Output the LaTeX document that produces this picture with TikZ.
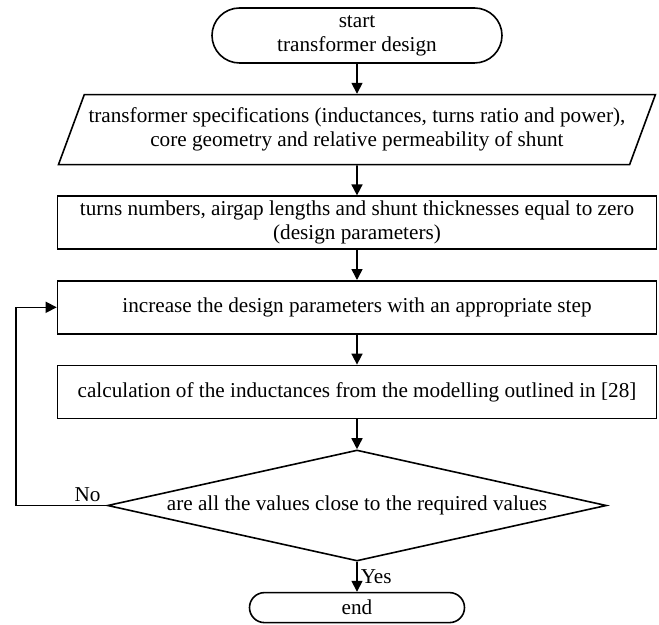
\documentclass[tikz,border=0pt]{standalone}
\usepackage{fontspec}
\setmainfont{Liberation Serif}
\usetikzlibrary{arrows.meta,positioning,shapes.geometric,shapes.misc}
\tikzset{>={Triangle[length=5.5pt,width=5.5pt]},
  box/.style={draw=black,line width=0.8pt,rectangle,align=center,
    inner sep=2pt,font=\fontsize{10.6}{12}\selectfont,
    minimum width=299.5pt,minimum height=26.5pt},
  termbox/.style={box,rounded rectangle,minimum width=149pt,minimum height=27.5pt},
  iobox/.style={box,trapezium,trapezium stretches=true,
    trapezium left angle=63.4,trapezium right angle=116.6,
    minimum width=299.5pt,minimum height=35pt},
  decbox/.style={box,diamond,aspect=4.5,inner sep=0pt,
    minimum width=249.5pt,minimum height=55.5pt},
  flow/.style={->,line width=0.8pt,black},
  lbl/.style={font=\fontsize{10.6}{12}\selectfont,inner sep=1.5pt}}
\begin{document}
\begin{tikzpicture}[node distance=15pt]
  \useasboundingbox (0,0) rectangle (329.5pt,-312.5pt);
  \node[termbox] (start) at (178.5pt,-17.75pt) {start\\transformer design};
  \node[iobox,below=of start] (spec) {transformer specifications (inductances, turns ratio and power),\\core geometry and relative permeability of shunt};
  \node[box,below=of spec] (init) {turns numbers, airgap lengths and shunt thicknesses equal to zero\\(design parameters)};
  \node[box,below=of init] (incr) {increase the design parameters with an appropriate step};
  \node[box,below=of incr] (calc) {calculation of the inductances from the modelling outlined in [28]};
  \node[decbox,below=of calc] (check) {are all the values close to the required values};
  \node[termbox,below=of check,minimum width=111.5pt,minimum height=15pt] (stop) {end};
  \coordinate (loop) at ([xshift=-45.5pt]check.west);
  \draw[flow] (start)--(spec);\draw[flow] (spec)--(init);\draw[flow] (init)--(incr);
  \draw[flow] (incr)--(calc);\draw[flow] (calc)--(check);
  \draw[flow] (check)--node[lbl,right]{Yes}(stop);
  \draw[flow] (check.west)--node[lbl,above,pos=0.21]{No}(loop)|-(incr.west);
\end{tikzpicture}
\end{document}
